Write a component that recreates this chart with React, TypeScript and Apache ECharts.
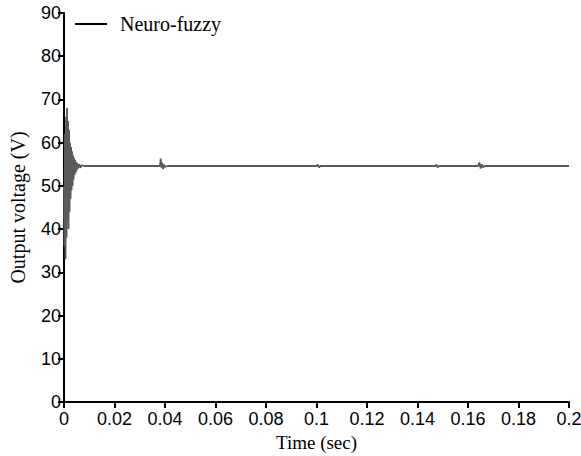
import React, { useEffect, useRef } from "react";
import * as echarts from "echarts";

const times: number[] = [
  0, 0.0002, 0.0004, 0.0006, 0.0008, 0.001, 0.0012, 0.0014, 0.0016, 0.0018,
  0.002, 0.0022, 0.0024, 0.0026, 0.0028, 0.003, 0.0032, 0.0034, 0.0036, 0.0038,
  0.004, 0.0042, 0.0044, 0.0046, 0.0048, 0.005, 0.0052, 0.0055, 0.006, 0.0065,
  0.007, 0.008, 0.038, 0.0383, 0.0386, 0.0389, 0.0392, 0.0396, 0.04, 0.041,
  0.1, 0.1005, 0.101, 0.1015, 0.147, 0.1475, 0.148, 0.1485, 0.164, 0.1645,
  0.165, 0.1655, 0.166, 0.1665, 0.2,
];
const voltages: number[] = [
  50, 36, 62, 33, 66, 38, 68, 42, 65, 40,
  63, 44, 60, 47, 59, 49, 58, 50, 57, 51.5,
  56.5, 52.5, 56, 53, 55.5, 53.5, 55.3, 54, 55, 54.2,
  54.8, 54.6, 54.6, 56.3, 54.2, 55.4, 53.9, 54.9, 54.4, 54.6,
  54.6, 54.9, 54.3, 54.6, 54.6, 54.9, 54.3, 54.6, 54.6, 55.4,
  54.0, 55.0, 54.3, 54.6, 54.6,
];
const seriesName = "Neuro-fuzzy";
const xTicks: number[] = [0, 0.02, 0.04, 0.06, 0.08, 0.1, 0.12, 0.14, 0.16, 0.18, 0.2];

export default function App() {
  const ref = useRef<HTMLDivElement>(null);
  useEffect(() => {
    if (!ref.current) return;
    document.body.style.margin = "0";
    const chart = echarts.init(ref.current, null, { renderer: "svg" });
    const serif = "Liberation Serif";
    const sans = "Liberation Sans";
    chart.setOption({
      animation: false,
      backgroundColor: "#fff",
      textStyle: { fontFamily: serif },
      grid: { left: 64, right: 12, top: 13, bottom: 54, containLabel: false, outerBoundsMode: "none" },
      legend: {
        left: 70,
        top: 9,
        icon: "rect",
        itemWidth: 32,
        itemHeight: 2,
        itemGap: 5,
        textStyle: { fontFamily: serif, fontSize: 20, color: "#000", padding: [0, 0, 0, 8] },
        data: [{ name: seriesName, itemStyle: { color: "#000" } }],
      },
      xAxis: {
        type: "value",
        min: 0,
        max: 0.2,
        interval: 0.02,
        name: "Time (sec)",
        nameLocation: "middle",
        nameGap: 30,
        nameTextStyle: { fontFamily: serif, fontSize: 19, color: "#000" },
        axisLine: { lineStyle: { color: "#000", width: 2 } },
        axisTick: { show: true, length: 6, lineStyle: { color: "#000", width: 2 } },
        axisLabel: {
          fontFamily: sans,
          fontSize: 18,
          color: "#000",
          margin: 8,
          formatter: (v: number) => {
            const t = xTicks.find((x) => Math.abs(x - v) < 1e-9);
            return String(parseFloat((t ?? v).toFixed(3)));
          },
        },
        splitLine: { show: false },
      },
      yAxis: {
        type: "value",
        min: 0,
        max: 90,
        interval: 10,
        name: "Output voltage (V)",
        nameLocation: "middle",
        nameGap: 36,
        nameTextStyle: { fontFamily: serif, fontSize: 20, color: "#000" },
        axisLine: { show: true, lineStyle: { color: "#000", width: 2 } },
        axisTick: { show: true, length: 6, lineStyle: { color: "#000", width: 2 } },
        axisLabel: { fontFamily: sans, fontSize: 18, color: "#000", margin: 3 },
        splitLine: { show: false },
      },
      series: [
        {
          name: seriesName,
          type: "line",
          data: times.map((t, i) => [t, voltages[i]]),
          showSymbol: false,
          symbol: "none",
          lineStyle: { color: "#5a5a5a", width: 1.8 },
          itemStyle: { color: "#000" },
        },
      ],
    });
    return () => chart.dispose();
  }, []);
  return <div ref={ref} style={{ width: 581, height: 456 }} />;
}
